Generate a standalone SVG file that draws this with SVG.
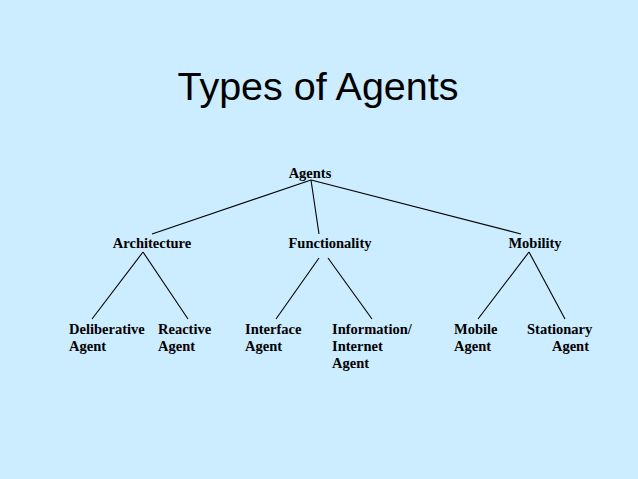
<svg xmlns="http://www.w3.org/2000/svg" width="638" height="479" viewBox="0 0 638 479">
<style>
.t{font-family:"Liberation Serif",serif;font-weight:bold;font-size:14.5px;fill:#000}
.c line{stroke:#000;stroke-width:1.1}
</style>
<rect width="638" height="479" fill="#CCECFF"/>
<text x="318" y="100" text-anchor="middle" font-family="Liberation Sans,Arial,sans-serif" font-size="39.5" fill="#000">Types of Agents</text>
<g class="c" id="connectors">
<line x1="311" y1="180" x2="152" y2="234"/>
<line x1="311" y1="180" x2="319" y2="234"/>
<line x1="311" y1="180" x2="521" y2="234"/>
<line x1="143" y1="252" x2="92" y2="319"/>
<line x1="143" y1="252" x2="188" y2="319"/>
<line x1="319" y1="258" x2="276" y2="319"/>
<line x1="328" y1="258" x2="372" y2="319"/>
<line x1="529" y1="252" x2="478" y2="319"/>
<line x1="529" y1="252" x2="565" y2="319"/>
</g>
<g id="agents"><text class="t" x="310" y="178" text-anchor="middle">Agents</text></g>
<g id="architecture"><text class="t" x="152" y="248" text-anchor="middle">Architecture</text></g>
<g id="functionality"><text class="t" x="330" y="248" text-anchor="middle">Functionality</text></g>
<g id="mobility"><text class="t" x="535" y="248" text-anchor="middle">Mobility</text></g>
<g id="deliberative"><text class="t" x="69" y="334">Deliberative</text><text class="t" x="69" y="351">Agent</text></g>
<g id="reactive"><text class="t" x="158" y="334">Reactive</text><text class="t" x="158" y="351">Agent</text></g>
<g id="interface"><text class="t" x="245" y="334">Interface</text><text class="t" x="245" y="351">Agent</text></g>
<g id="information"><text class="t" x="332" y="334">Information/</text><text class="t" x="332" y="351">Internet</text><text class="t" x="332" y="368">Agent</text></g>
<g id="mobile"><text class="t" x="454" y="334">Mobile</text><text class="t" x="454" y="351">Agent</text></g>
<g id="stationary"><text class="t" x="527" y="334">Stationary</text><text class="t" x="589" y="351" text-anchor="end">Agent</text></g>
</svg>
